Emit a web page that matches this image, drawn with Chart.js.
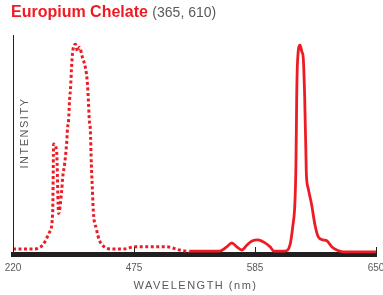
<!DOCTYPE html>
<html lang="en">
<head>
<meta charset="UTF-8">
<title>Europium Chelate</title>
<script src="https://cdn.jsdelivr.net/npm/chart.js"></script>
<style>
  body { margin: 0; background: #fff; font-family: 'Liberation Sans', Arial, sans-serif; }
  .wrap { position: relative; width: 383px; height: 295px; }
  .title { position: absolute; left: 11px; top: 4px; line-height: 16px; white-space: nowrap; z-index: 1; }
  .title b { color: #ed1c24; font-size: 16px; }
  .title span { color: #58595b; font-size: 14px; }
  canvas { position: absolute; left: 0; top: 0; }
</style>
</head>
<body>
<div class="wrap">
  <div class="title"><b>Europium Chelate</b> <span>(365, 610)</span></div>
  <canvas id="chart" width="383" height="295"></canvas>
</div>
<script>
// x axis ticks are evenly spaced but not evenly valued
const tickLabels = [220, 475, 585, 650];
const xTitle = 'WAVELENGTH (nm)';
const yTitle = 'INTENSITY';

// excitation (dotted)
const exWavelength = [220, 261.8, 282.7, 297.3, 303.6, 305.7, 311.9, 316.1, 322.4, 324.5, 328.7, 332.9, 335, 337, 339.1, 341.2, 343.3, 345.4, 351.7, 355.9, 360, 366.3, 370.5, 374.7, 376.8, 378.9, 380.9, 383, 385.1, 387.2, 389.3, 395.6, 401.8, 412.3, 426.9, 454.1, 475, 488.8, 504.4, 516.3, 525.4];
const exIntensity = [2.4, 2.4, 4.3, 10.5, 19.2, 52.2, 48.9, 19.2, 29.7, 35.9, 42.6, 52.2, 59.9, 63.2, 72.8, 78.6, 88.1, 95.3, 99.6, 96.3, 98.2, 93.4, 90.5, 85.7, 81, 72.8, 63.2, 58.9, 42.6, 31.1, 20.1, 12, 6.7, 3.4, 2.4, 2.4, 3.4, 3.4, 3.4, 1.9, 1.0];

// emission (solid)
const emWavelength = [525.4, 552.9, 559.3, 563.9, 568.5, 573.1, 577.7, 582.3, 586.6, 590.4, 593.1, 595.2, 601.1, 603.8, 605.4, 606.4, 607, 607.4, 607.8, 609.2, 610.2, 610.9, 611.7, 611.9, 612.3, 612.6, 613.6, 615.4, 617.2, 619, 621.5, 623.7, 626.2, 628.9, 632.3, 643, 650];
const emIntensity = [1.4, 1.4, 3.4, 5.3, 3.4, 1.9, 4.3, 6.2, 6.7, 5.3, 3.4, 1.4, 1.4, 4.3, 13.9, 23.5, 42.6, 74.2, 90.5, 99.2, 96, 93.4, 74.2, 66, 50, 38, 31.1, 23.5, 13.9, 8.1, 6.7, 6.2, 3.4, 1.9, 1.0, 1.0, 1.0];

const red = '#ed1c24';
const ink = '#231f20';
const gray = '#58595b';
const font = "'Liberation Sans', Arial, sans-serif";

// wavelength -> axis position (piecewise between tick labels)
function toAxis(wl) {
  for (let i = 0; i < tickLabels.length - 1; i++) {
    const a = tickLabels[i], b = tickLabels[i + 1];
    if (wl <= b || i === tickLabels.length - 2) return i + (wl - a) / (b - a);
  }
}
const points = (ws, vs) => ws.map((w, i) => ({ x: toAxis(w), y: vs[i] }));

// small tick marks above the axis bar + letter-spaced axis titles
const axisDecor = {
  id: 'axisDecor',
  afterDraw(chart) {
    const { ctx, chartArea, scales: { x } } = chart;
    ctx.save();
    ctx.strokeStyle = ink;
    ctx.lineWidth = 1;
    tickLabels.forEach((_, i) => {
      const px = Math.round(x.getPixelForValue(i)) + 0.5;
      ctx.beginPath();
      ctx.moveTo(px, chartArea.bottom - 7);
      ctx.lineTo(px, chartArea.bottom);
      ctx.stroke();
    });
    ctx.fillStyle = gray;
    ctx.font = '11px ' + font;
    ctx.letterSpacing = '1.5px';
    ctx.textAlign = 'center';
    ctx.textBaseline = 'middle';
    ctx.fillText(xTitle, (chartArea.left + chartArea.right) / 2 + 1, chartArea.bottom + 32);
    ctx.translate(chartArea.left + 12, 133);
    ctx.rotate(-Math.PI / 2);
    ctx.fillText(yTitle, 0, 0);
    ctx.restore();
  }
};

new Chart(document.getElementById('chart'), {
  type: 'line',
  data: {
    datasets: [{
      data: points(exWavelength, exIntensity),
      borderColor: red,
      borderWidth: 3,
      borderDash: [3, 2.5],
      cubicInterpolationMode: 'monotone',
      pointRadius: 0,
      fill: false
    }, {
      data: points(emWavelength, emIntensity),
      borderColor: red,
      borderWidth: 2.8,
      cubicInterpolationMode: 'monotone',
      pointRadius: 0,
      fill: false
    }]
  },
  options: {
    responsive: false,
    animation: false,
    layout: { padding: { left: 13, right: 7, top: 35, bottom: 13 } },
    plugins: { legend: { display: false }, tooltip: { enabled: false } },
    scales: {
      x: {
        type: 'linear',
        min: 0,
        max: tickLabels.length - 1,
        afterBuildTicks: s => { s.ticks = tickLabels.map((_, i) => ({ value: i })); },
        // let the end labels hang over the edges like the original
        afterFit: s => { s.paddingLeft = 0; s.paddingRight = 0; },
        ticks: {
          callback: v => tickLabels[v],
          color: gray,
          font: { size: 10, family: font },
          padding: 8,
          maxRotation: 0,
          autoSkip: false
        },
        grid: { display: false, drawTicks: false },
        border: { color: ink, width: 5 }
      },
      y: {
        min: 0,
        max: 104,
        afterFit: s => { s.width = 0; },
        ticks: { display: false },
        grid: { display: false, drawTicks: false },
        border: { color: ink, width: 1 }
      }
    }
  },
  plugins: [axisDecor]
});
</script>
</body>
</html>
